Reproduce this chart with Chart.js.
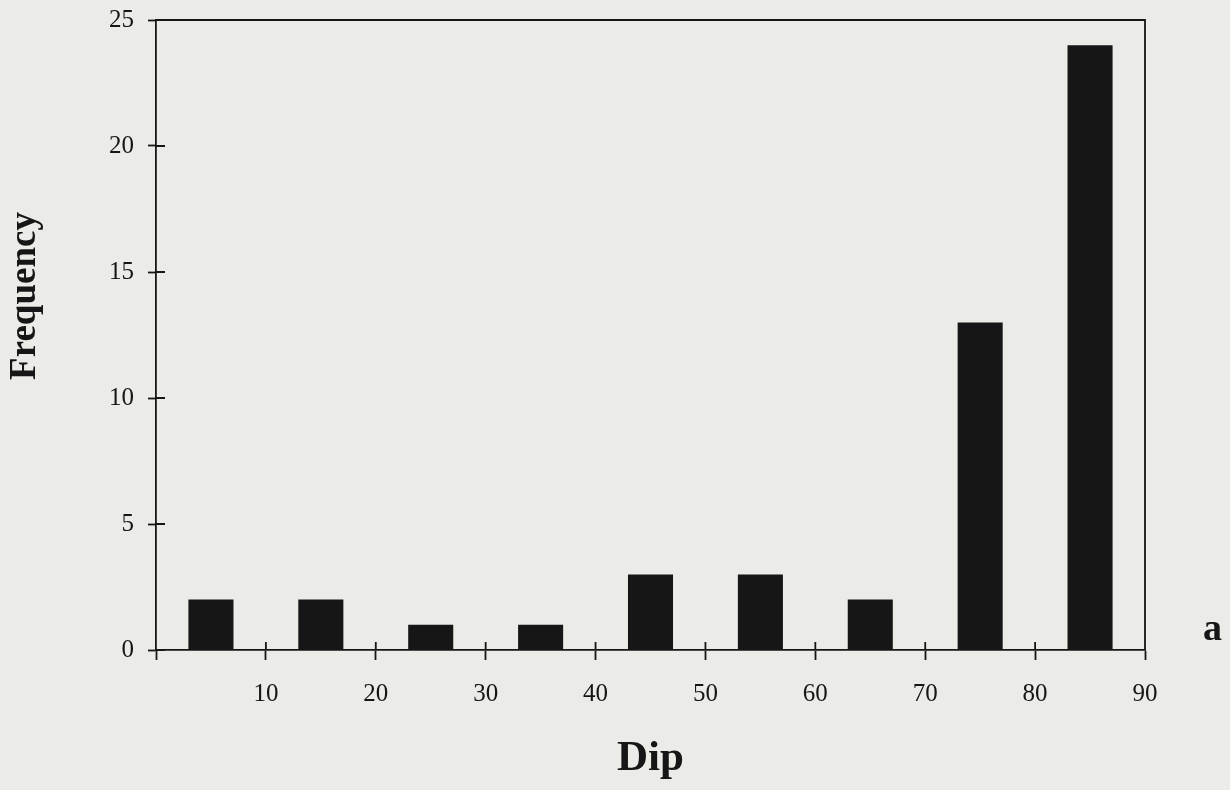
<!DOCTYPE html>
<html>
<head>
<meta charset="utf-8">
<script src="https://cdn.jsdelivr.net/npm/chart.js@4/dist/chart.umd.min.js"></script>
<style>
  html, body { margin: 0; padding: 0; background: #ebebe8; }
  canvas { display: block; }
</style>
</head>
<body>
<canvas id="c" width="1230" height="790"></canvas>
<script>
// Dip histogram: 10-degree classes, bars sit at class midpoints
const dipClassMid = [5, 15, 25, 35, 45, 55, 65, 75, 85];
const frequency   = [2, 2, 1, 1, 3, 3, 2, 13, 24];
const xTickValues = [10, 20, 30, 40, 50, 60, 70, 80, 90];
const yTickValues = [0, 5, 10, 15, 20, 25];

const INK = '#161616';
const SERIF = '"Liberation Serif", "Times New Roman", serif';

// Frame (top/right edges), inward halves of the tick marks, y title and panel letter
const framePlugin = {
  id: 'frame',
  afterDraw(chart) {
    const { ctx, chartArea: a, scales } = chart;
    ctx.save();
    ctx.strokeStyle = INK;
    ctx.lineWidth = 1.8;
    ctx.beginPath();
    ctx.moveTo(a.left, a.top);
    ctx.lineTo(a.right, a.top);
    ctx.lineTo(a.right, a.bottom);
    xTickValues.forEach(v => {
      const px = scales.x.getPixelForValue(v);
      ctx.moveTo(px, a.bottom);
      ctx.lineTo(px, a.bottom - 8);
    });
    yTickValues.forEach(v => {
      const py = scales.y.getPixelForValue(v);
      ctx.moveTo(a.left, py);
      ctx.lineTo(a.left + 9, py);
    });
    ctx.stroke();

    ctx.fillStyle = INK;
    ctx.font = 'bold 37px ' + SERIF;
    ctx.textAlign = 'center';
    ctx.textBaseline = 'middle';
    ctx.translate(25, 296);
    ctx.rotate(-Math.PI / 2);
    ctx.fillText('Frequency', 0, 0);
    ctx.restore();

    ctx.save();
    ctx.fillStyle = INK;
    ctx.font = 'bold 38px ' + SERIF;
    ctx.textAlign = 'left';
    ctx.textBaseline = 'alphabetic';
    ctx.fillText('a', 1203, 640);
    ctx.restore();
  }
};

new Chart(document.getElementById('c'), {
  type: 'bar',
  data: {
    datasets: [{
      data: dipClassMid.map((x, i) => ({ x: x, y: frequency[i] })),
      backgroundColor: INK,
      borderWidth: 0,
      barPercentage: 1,
      categoryPercentage: 0.41
    }]
  },
  options: {
    responsive: false,
    devicePixelRatio: 1,
    animation: false,
    layout: { padding: { left: 0, right: 85, top: 20, bottom: 0 } },
    plugins: { legend: { display: false }, tooltip: { enabled: false } },
    scales: {
      x: {
        type: 'linear',
        min: 0,
        max: 90,
        offset: false,
        afterFit(s) { s.height = 140; },
        afterBuildTicks(s) { s.ticks = [0].concat(xTickValues).map(v => ({ value: v })); },
        border: { display: true, color: INK, width: 1.8 },
        grid: { offset: false, drawOnChartArea: false, drawTicks: true, tickLength: 10, tickColor: INK, tickWidth: 1.8 },
        ticks: {
          color: INK,
          font: { family: SERIF, size: 25 },
          padding: 19,
          maxRotation: 0,
          callback: v => (v === 0 ? '' : String(v))
        },
        title: {
          display: true,
          text: 'Dip',
          color: INK,
          font: { family: SERIF, size: 43, weight: 'bold' },
          padding: { top: 0, bottom: 5 }
        }
      },
      y: {
        type: 'linear',
        min: 0,
        max: 25,
        afterFit(s) {
          s.width = 156;
          s.paddingTop = 0;
          s.paddingBottom = 0;
        },
        afterBuildTicks(s) { s.ticks = yTickValues.map(v => ({ value: v })); },
        border: { display: true, color: INK, width: 1.8 },
        grid: { drawOnChartArea: false, drawTicks: true, tickLength: 8, tickColor: INK, tickWidth: 1.8 },
        ticks: {
          color: INK,
          font: { family: SERIF, size: 25 },
          padding: 14
        }
      }
    }
  },
  plugins: [framePlugin]
});
</script>
</body>
</html>
